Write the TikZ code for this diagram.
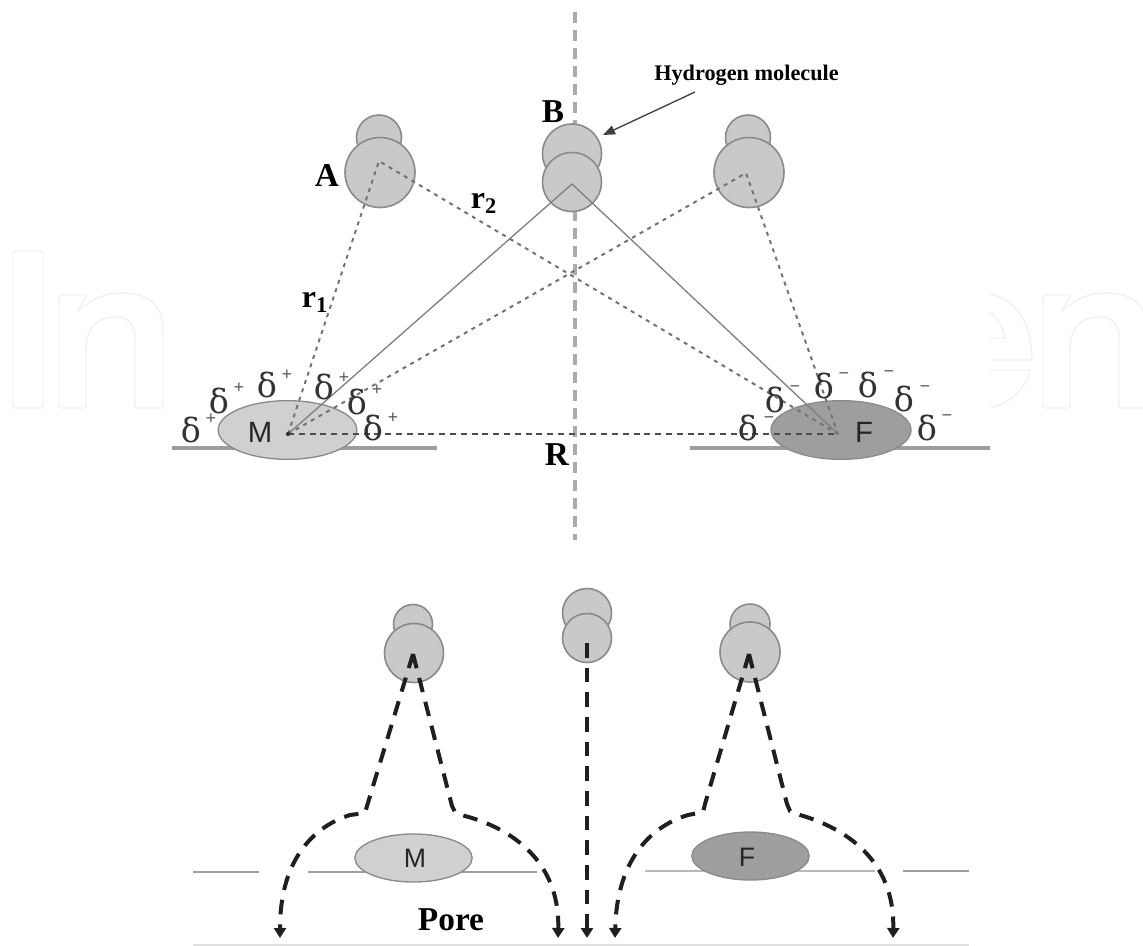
\documentclass[tikz,border=0pt]{standalone}
\usepackage{fontspec}
\setmainfont{Liberation Serif}
\newfontfamily\labelsans{Liberation Sans}
\newfontfamily\greekserif{DejaVu Serif}
\usetikzlibrary{arrows.meta,shapes.geometric}
\definecolor{atomfill}{HTML}{C9C9C9}
\definecolor{atomedge}{HTML}{8A8A8A}
\definecolor{metalfill}{HTML}{D0D0D0}
\definecolor{fluorfill}{HTML}{9E9E9E}
\definecolor{faintline}{HTML}{F1F1F1}
\tikzset{
  atom/.style={circle,draw=atomedge,fill=atomfill,line width=1.2pt,inner sep=0pt,minimum size=#1*.75pt},
  site/.style={ellipse,draw=atomedge,inner sep=0pt,line width=1pt,minimum width=#1},
  surface/.style={draw=black!38,line width=2.8pt},
  thinsurface/.style={draw=black!38,line width=1.4pt},
  axisline/.style={draw=black!33,line width=2.8pt,dash pattern=on 8pt off 5.5pt},
  thinrod/.style={draw=black!50,line width=1pt},
  dotrod/.style={draw=black!55,line width=1.5pt,dash pattern=on 3pt off 3.6pt},
  rrod/.style={draw=black!70,line width=1.9pt,dash pattern=on 4.5pt off 3.6pt},
  pathway/.style={draw=black!88,line width=3pt,dash pattern=on 11pt off 7.5pt,
    -{Triangle[length=7.5pt,width=9pt]}},
  lab/.style={font=\bfseries\fontsize{25}{25}\selectfont,inner sep=0pt},
  dlt/.style={font=\greekserif\fontsize{25}{25}\selectfont,inner sep=0pt,text=black!80},
  chg/.style={font=\bfseries\fontsize{14}{14}\selectfont,inner sep=0pt,text=black!65},
  sitelab/.style={font=\labelsans\fontsize{#1}{#1}\selectfont,inner sep=0pt,text=black!85},
  paleoutline/.style={draw=faintline,line width=1.1pt,line join=round}
}
\begin{document}
\begin{tikzpicture}[x=.75pt,y=-.75pt]
\useasboundingbox (0,0) rectangle (1143,946);

% pale outlined lettering behind the figure
\begin{scope}
\clip (0,0) rectangle (1143,946);
\draw[paleoutline,rounded corners=2pt] (13,251) rectangle (43,408);
\foreach \dx in {0,984}{
  \begin{scope}[xshift=\dx*.75pt]
  \draw[paleoutline,rounded corners=1.5pt] (59,295) -- (87,295) -- (77,312)
    .. controls (90,300) and (105,293) .. (120,293)
    .. controls (148,293) and (163,305) .. (163,332)
    -- (163,408) -- (135,408) -- (135,340)
    .. controls (135,325) and (128,317) .. (115,317)
    .. controls (98,317) and (86,330) .. (86,347)
    -- (86,408) -- (59,408) -- cycle;
  \end{scope}
}
\draw[paleoutline] (990,294) .. controls (1018,300) and (1032,325) .. (1032,360) -- (990,360);
\draw[paleoutline] (990,312) .. controls (998,318) and (1003,328) .. (1005,338) -- (990,338);
\draw[paleoutline] (990,408) .. controls (1010,403) and (1025,390) .. (1030,370) -- (990,370);
\end{scope}

% upper panel: reference points
\coordinate (axisTop) at (575,12);
\coordinate (axisBot) at (575,540);
\coordinate (mC) at (288,434);
\coordinate (fC) at (838,434);
\coordinate (aC) at (379,161);
\coordinate (bC) at (572,184);
\coordinate (cC) at (746,173);

\draw[axisline] (axisTop) -- (axisBot);

% surface lines and the two sites
\coordinate (sL1) at (172,448); \coordinate (sL2) at (437,448);
\coordinate (sR1) at (690,448); \coordinate (sR2) at (990,448);
\draw[surface] (sL1) -- (sL2);
\draw[surface] (sR1) -- (sR2);
\node[site=104pt,minimum height=44pt,fill=metalfill] (siteM) at (287.5,430) {};
\node[site=105pt,minimum height=44pt,fill=fluorfill] (siteF) at (841,430) {};

% hydrogen molecules
\node[atom=45] (a2) at (379,137.5) {};
\node[atom=70] (a1) at (380,172.5) {};
\node[atom=59] (b2) at (572,153.5) {};
\node[atom=59] (b1) at (572,182) {};
\node[atom=45] (c2) at (748,137.5) {};
\node[atom=70] (c1) at (749,172.5) {};

% separations between the sites and the molecule
\draw[thinrod] (mC) -- (bC) -- (fC);
\draw[dotrod] (mC) -- (aC) -- (fC);
\draw[dotrod] (mC) -- (cC) -- (fC);
\draw[rrod] (mC) -- (fC);
\fill[black!80] (mC) circle (1.6pt);

% labels
\node[sitelab=22] (lblM) at (260,432) {M};
\node[sitelab=22] (lblF) at (864,432) {F};
\node[lab] (lblA) at (327,175) {A};
\node[lab] (lblB) at (553,112) {B};
\node[lab] (lblR) at (557,455) {R};
\node[lab,font=\bfseries\fontsize{24}{24}\selectfont] (lblr1) at (315,302) {r\textsubscript{1}};
\node[lab,font=\bfseries\fontsize{24}{24}\selectfont] (lblr2) at (484,203) {r\textsubscript{2}};
\node[font=\bfseries\fontsize{16.7}{17}\selectfont,inner sep=0pt] (lblH) at (746.5,75) {Hydrogen molecule};
\coordinate (hTail) at (695,92);
\coordinate (hTip) at (603,135);
\draw[draw=black!75,line width=1pt,-{Triangle[length=9pt,width=7pt]}] (hTail) -- (hTip);

% partial charges around the two sites
\foreach \n/\x/\y/\px/\py in {1/191/430/211/419,2/219/401/239/388,3/267/385/287/375,4/324/387/344/378,5/357/402/377/390,6/373/428/393/418}{
  \node[dlt] (dp\n) at (\x,\y) {δ};
  \node[chg] (pp\n) at (\px,\py) {+};
}
\foreach \n/\x/\y/\px/\py in {1/748/428/769/420,2/775/400/795/389,3/824/386/844/376,4/868/385/889/374,5/904/399/925/389,6/927/428/947/418}{
  \node[dlt] (dm\n) at (\x,\y) {δ};
  \node[chg] (pm\n) at (\px,\py) {−};
}

% lower panel: surface lines with the pore openings
\coordinate (l1) at (193,872); \coordinate (l2) at (259,872);
\coordinate (l3) at (308,872); \coordinate (l4) at (537,872);
\coordinate (l5) at (645,871); \coordinate (l6) at (875,871);
\coordinate (l7) at (903,871); \coordinate (l8) at (969,871);
\coordinate (floorL) at (193,945); \coordinate (floorR) at (969,945);
\draw[thinsurface] (l1) -- (l2);
\draw[thinsurface] (l3) -- (l4);
\draw[thinsurface,draw=black!28,line width=2.2pt] (l5) -- (l6);
\draw[thinsurface] (l7) -- (l8);
\draw[draw=black!12,line width=.8pt] (floorL) -- (floorR);
\node[site=88pt,minimum height=36pt,fill=metalfill] (siteM2) at (413.5,858) {};
\node[site=88pt,minimum height=36pt,fill=fluorfill] (siteF2) at (750.5,856) {};
\node[sitelab=20] (lblM2) at (415,858) {M};
\node[sitelab=20] (lblF2) at (747,857) {F};
\node[lab] (lblPore) at (451,920) {Pore};

\node[atom=39] (p2) at (413,624) {};
\node[atom=59] (p1) at (414,653) {};
\node[atom=49] (q2) at (587,613) {};
\node[atom=49] (q1) at (587,638) {};
\node[atom=40] (s2) at (750,624) {};
\node[atom=60] (s1) at (750,652) {};

% pathways towards the pore floor
\coordinate (pA) at (413,654);
\coordinate (sA) at (749,654);
\coordinate (qA) at (587,643);
\coordinate (e1) at (280,938); \coordinate (e2) at (558,938);
\coordinate (e3) at (587,938); \coordinate (e4) at (615,938);
\coordinate (e5) at (893,938);
\draw[pathway] (pA) -- (367,806) -- (365,813) -- (350,815)
  .. controls (318,825) and (280,855) .. (e1);
\draw[pathway] (pA) -- (452,806) -- (455,812) -- (465,816)
  .. controls (510,828) and (560,860) .. (e2);
\draw[pathway] (qA) -- (e3);
\draw[pathway] (sA) -- (705,804) -- (703,812) -- (688,815)
  .. controls (655,825) and (617,855) .. (e4);
\draw[pathway] (sA) -- (787,804) -- (790,811) -- (800,815)
  .. controls (845,828) and (895,860) .. (e5);
\end{tikzpicture}
\end{document}
